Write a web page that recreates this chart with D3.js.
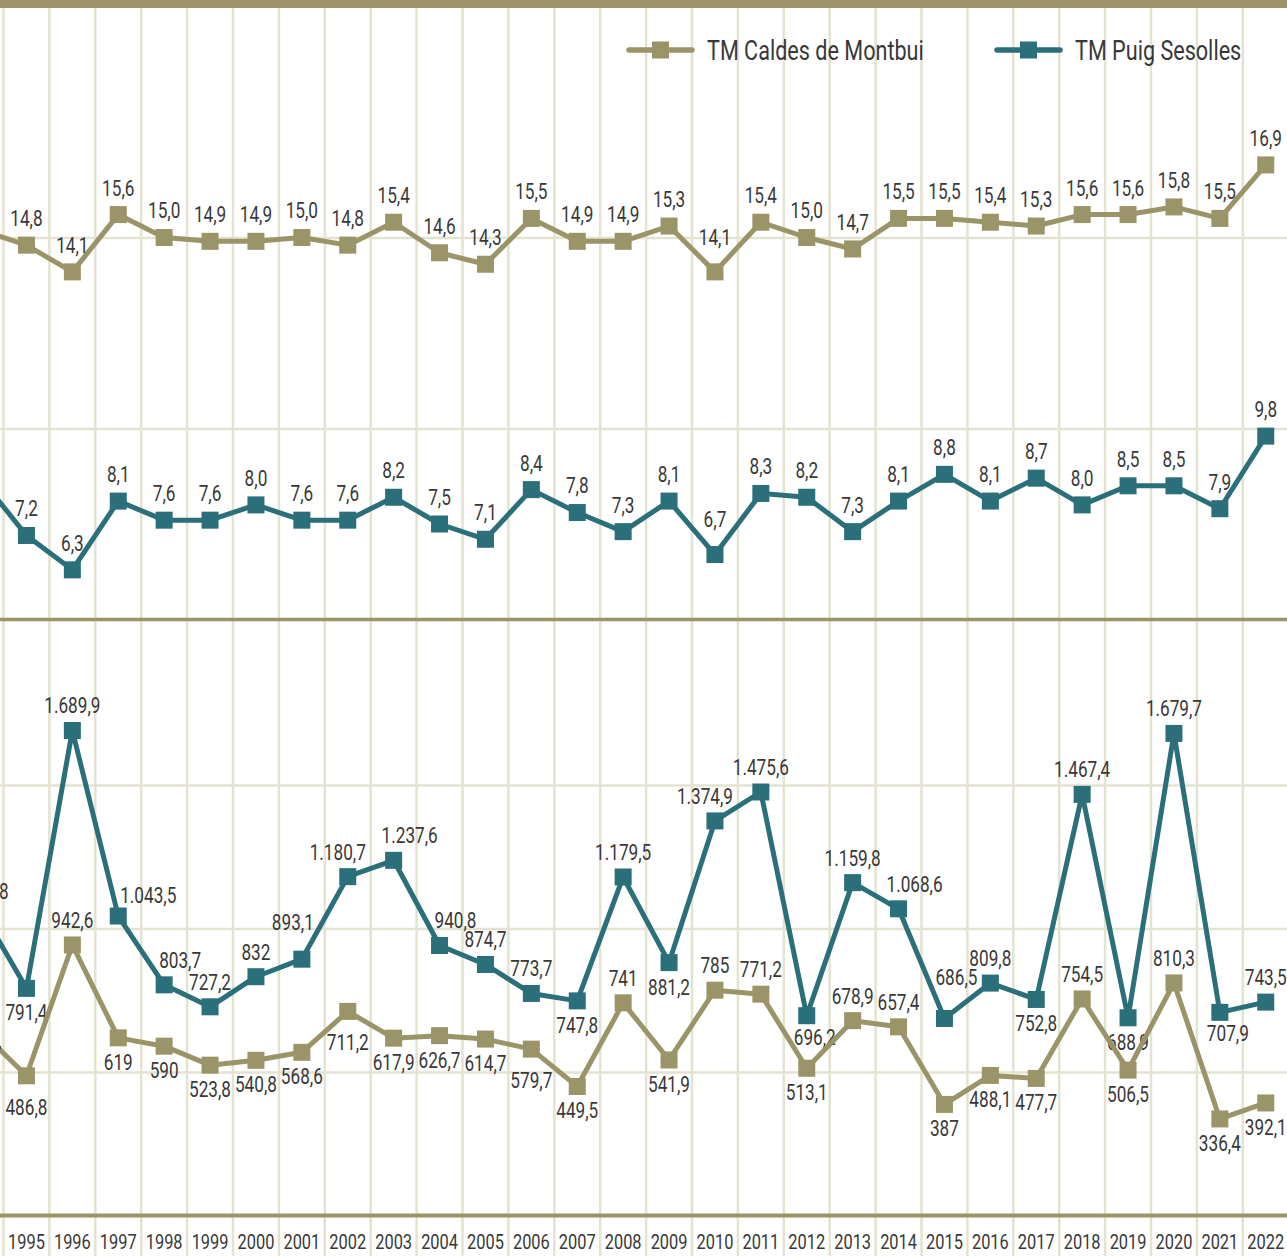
<!DOCTYPE html>
<html lang="ca">
<head>
    <meta charset="UTF-8">
    <title>Temperatura mitjana i precipitació</title>
    <script src="https://d3js.org/d3.v7.min.js"></script>
    <style>
        body {
            margin: 0;
            background: #ffffff;
        }
        svg {
            display: block;
            font-family: Roboto, "Liberation Sans", sans-serif;
        }
        .grid line {
            stroke: #e4e2d1;
            stroke-width: 2.5;
        }
        .grid .domain {
            display: none;
        }
        .value-label {
            font-size: 22px;
            fill: #383838;
            text-anchor: middle;
        }
        .year-axis text {
            font-size: 21px;
            fill: #383838;
        }
        .legend text {
            font-size: 27px;
            fill: #383838;
        }
    </style>
</head>
<body>
    <svg id="chart" width="1287" height="1256"></svg>

    <script>
        // years (1994 is cut off at the left edge of the picture)
        const years = [1994, 1995, 1996, 1997, 1998, 1999, 2000, 2001, 2002, 2003,
            2004, 2005, 2006, 2007, 2008, 2009, 2010, 2011, 2012, 2013,
            2014, 2015, 2016, 2017, 2018, 2019, 2020, 2021, 2022];

        // mean temperature (ºC)
        const tmCaldes = [15.2, 14.8, 14.1, 15.6, 15.0, 14.9, 14.9, 15.0, 14.8, 15.4,
            14.6, 14.3, 15.5, 14.9, 14.9, 15.3, 14.1, 15.4, 15.0, 14.7,
            15.5, 15.5, 15.4, 15.3, 15.6, 15.6, 15.8, 15.5, 16.9];
        const tmPuig = [8.7, 7.2, 6.3, 8.1, 7.6, 7.6, 8.0, 7.6, 7.6, 8.2,
            7.5, 7.1, 8.4, 7.8, 7.3, 8.1, 6.7, 8.3, 8.2, 7.3,
            8.1, 8.8, 8.1, 8.7, 8.0, 8.5, 8.5, 7.9, 9.8];

        // yearly precipitation (mm)
        const ppCaldes = [644.7, 486.8, 942.6, 619, 590, 523.8, 540.8, 568.6, 711.2, 617.9,
            626.7, 614.7, 579.7, 449.5, 741, 541.9, 785, 771.2, 513.1, 678.9,
            657.4, 387, 488.1, 477.7, 754.5, 506.5, 810.3, 336.4, 392.1];
        const ppPuig = [1066.8, 791.4, 1689.9, 1043.5, 803.7, 727.2, 832, 893.1, 1180.7, 1237.6,
            940.8, 874.7, 773.7, 747.8, 1179.5, 881.2, 1374.9, 1475.6, 696.2, 1159.8,
            1068.6, 686.5, 809.8, 752.8, 1467.4, 688.9, 1679.7, 707.9, 743.5];

        const tempTicks = [10, 15];
        const precipTicks = [500, 1000, 1500];

        const seriesNames = ["TM Caldes de Montbui", "TM Puig Sesolles"];
        const colors = { caldes: "#9a9468", puig: "#2a6f7a" };

        // label placement codes -> [dx, dy] of the label centre from the marker
        const placements = {
            t: [0, -25], b: [0, 24], tt: [0, -27], T: [0, -35], bb: [0, 31],
            tr: [16, -25], tl: [-10, -25], r: [30, -21], hl: [-9, -37],
            hr: [12, -41], br: [8, 21], lo: [0, -18]
        };
        const tmCaldesPlace = { default: "tt", 2010: "T" };
        const tmPuigPlace = { default: "tt", 2010: "T" };
        const ppCaldesPlace = {
            default: "b", 1995: "bb", 1996: "t", 2002: "bb", 2006: "bb", 2008: "t",
            2010: "t", 2011: "t", 2013: "t", 2014: "t", 2018: "t", 2020: "t"
        };
        const ppPuigPlace = {
            default: "t", 1994: "lo", 1995: "b", 1997: "r", 1998: "tr", 2001: "hl", 2002: "tl",
            2003: "tr", 2004: "tr", 2007: "b", 2009: "b", 2010: "tl", 2012: "br",
            2014: "tr", 2015: "hr", 2017: "b", 2019: "b", 2021: "br"
        };

        const svg = d3.select("#chart");
        const W = +svg.attr("width");
        const H = +svg.attr("height");

        // the original uses a condensed face: squeeze Roboto horizontally
        function condense(sel, k) {
            sel.each(function() {
                const w = this.getComputedTextLength();
                d3.select(this)
                    .attr("textLength", w * k)
                    .attr("lengthAdjust", "spacingAndGlyphs");
            });
        }

        const fmtLocale = d3.formatLocale({ decimal: ",", thousands: ".", grouping: [3], currency: ["", " €"] });
        const fmtTemp = fmtLocale.format(".1f");
        const fmtPrecip = fmtLocale.format(",");

        const x = d3.scaleBand()
            .domain(years)
            .range([-42.4, 1288.7]);
        const cx = d => x(d) + x.bandwidth() / 2;

        const yT = d3.scaleLinear().domain([5, 15]).range([619.5, 237.5]);
        const yP = d3.scaleLinear().domain([0, 1500]).range([1215.5, 785]);

        // vertical grid at the band edges
        svg.append("g")
            .attr("class", "grid")
            .selectAll("line")
            .data(years)
            .enter().append("line")
            .attr("x1", d => x(d))
            .attr("x2", d => x(d))
            .attr("y1", 8)
            .attr("y2", H);

        // horizontal grid
        svg.append("g")
            .attr("class", "grid")
            .call(d3.axisLeft(yT).tickValues(tempTicks).tickSize(-W).tickFormat(""))
            .call(g => g.selectAll("text").remove());
        svg.append("g")
            .attr("class", "grid")
            .call(d3.axisLeft(yP).tickValues(precipTicks).tickSize(-W).tickFormat(""))
            .call(g => g.selectAll("text").remove());

        // frame lines
        svg.append("rect")
            .attr("x", 0).attr("y", 0)
            .attr("width", W).attr("height", 8)
            .attr("fill", colors.caldes);
        svg.append("line")
            .attr("x1", 0).attr("x2", W)
            .attr("y1", yT(5)).attr("y2", yT(5))
            .attr("stroke", colors.caldes)
            .attr("stroke-width", 3.5);
        svg.append("line")
            .attr("x1", 0).attr("x2", W)
            .attr("y1", yP(0)).attr("y2", yP(0))
            .attr("stroke", colors.caldes)
            .attr("stroke-width", 4);

        // year labels
        svg.append("g")
            .attr("class", "year-axis")
            .attr("transform", `translate(0,${yP(0)})`)
            .call(d3.axisBottom(x).tickSize(0).tickPadding(19))
            .attr("font-family", null)
            .attr("font-size", null)
            .call(g => g.select(".domain").remove())
            .call(g => g.selectAll("text").call(condense, 0.78));

        function drawSeries(values, y, color, fmt, place) {
            const pts = years.map((yr, i) => ({ year: yr, value: values[i] }));
            const g = svg.append("g");

            g.append("path")
                .datum(pts)
                .attr("fill", "none")
                .attr("stroke", color)
                .attr("stroke-width", 5)
                .attr("stroke-linejoin", "round")
                .attr("d", d3.line().x(d => cx(d.year)).y(d => y(d.value)));

            g.selectAll("rect")
                .data(pts)
                .enter().append("rect")
                .attr("x", d => cx(d.year) - 8.5)
                .attr("y", d => y(d.value) - 8.5)
                .attr("width", 17)
                .attr("height", 17)
                .attr("fill", color);

            g.selectAll("text")
                .data(pts)
                .enter().append("text")
                .attr("class", "value-label")
                .attr("x", d => cx(d.year) + placements[place[d.year] || place.default][0])
                .attr("y", d => y(d.value) + placements[place[d.year] || place.default][1])
                .attr("dy", "0.36em")
                .text(d => fmt(d.value))
                .call(condense, 0.78);
        }

        drawSeries(tmPuig, yT, colors.puig, fmtTemp, tmPuigPlace);
        drawSeries(tmCaldes, yT, colors.caldes, fmtTemp, tmCaldesPlace);
        drawSeries(ppPuig, yP, colors.puig, fmtPrecip, ppPuigPlace);
        drawSeries(ppCaldes, yP, colors.caldes, fmtPrecip, ppCaldesPlace);

        // legend
        const legend = svg.append("g").attr("class", "legend");
        const legendItems = [
            { name: seriesNames[0], color: colors.caldes, x: 629 },
            { name: seriesNames[1], color: colors.puig, x: 997 }
        ];
        const item = legend.selectAll("g")
            .data(legendItems)
            .enter().append("g")
            .attr("transform", d => `translate(${d.x},50)`);
        item.append("line")
            .attr("x1", 0).attr("x2", 63)
            .attr("stroke", d => d.color)
            .attr("stroke-width", 5.5)
            .attr("stroke-linecap", "round");
        item.append("rect")
            .attr("x", 23).attr("y", -8.5)
            .attr("width", 17).attr("height", 17)
            .attr("fill", d => d.color);
        item.append("text")
            .attr("x", 78)
            .attr("dy", "0.36em")
            .text(d => d.name)
            .call(condense, 0.8);
    </script>
</body>
</html>
